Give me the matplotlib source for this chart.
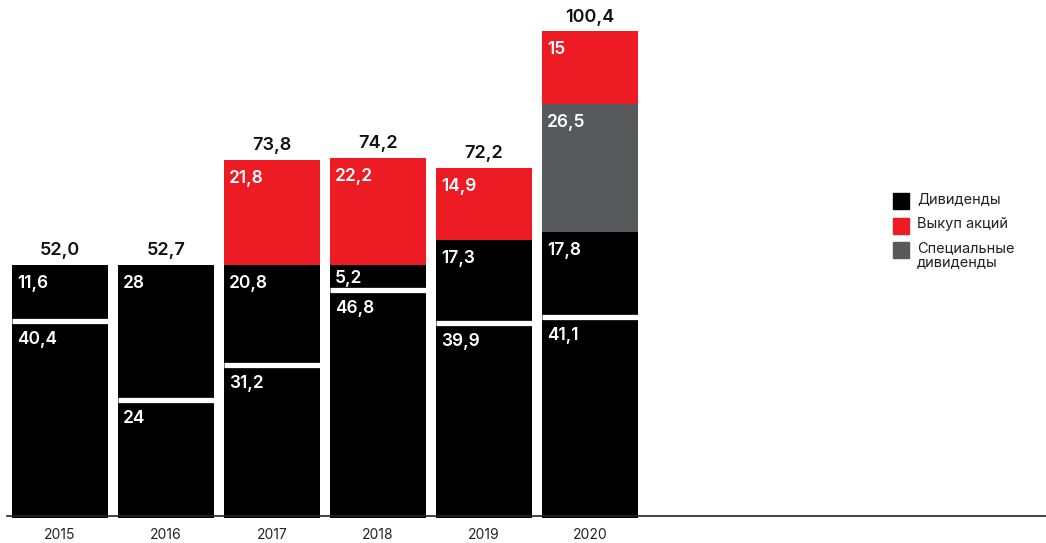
import matplotlib.pyplot as plt

plt.rcParams['font.family'] = ['Inter', 'DejaVu Sans']

# data
years = ['2015', '2016', '2017', '2018', '2019', '2020']
div_base = [40.4, 24, 31.2, 46.8, 39.9, 41.1]
div_extra = [11.6, 28, 20.8, 5.2, 17.3, 17.8]
special = [0, 0, 0, 0, 0, 26.5]
buyback = [0, 0, 21.8, 22.2, 14.9, 15]
totals = ['52,0', '52,7', '73,8', '74,2', '72,2', '100,4']
base_lbl = ['40,4', '24', '31,2', '46,8', '39,9', '41,1']
extra_lbl = ['11,6', '28', '20,8', '5,2', '17,3', '17,8']
special_lbl = ['', '', '', '', '', '26,5']
buyback_lbl = ['', '', '21,8', '22,2', '14,9', '15']

BLACK = '#000000'
RED = '#ED1C24'
GRAY = '#58595B'
PX = 4.83  # pixels per unit

fig = plt.figure(figsize=(10.46, 5.43), dpi=100)
ax = fig.add_axes([0, 27 / 543, 1, 516 / 543])
x = list(range(len(years)))
w = 0.906

bottom = [-0.5] * len(x)
segments = [(div_base, BLACK, base_lbl), (div_extra, BLACK, extra_lbl),
            (special, GRAY, special_lbl), (buyback, RED, buyback_lbl)]
first = True
for vals, col, lbls in segments:
    h = [v + 0.5 for v in vals] if first else vals
    ax.bar(x, h, w, bottom=bottom, color=col, align='center', linewidth=0,
           clip_on=False)
    for i, v in enumerate(vals):
        if v > 0 and lbls[i]:
            off_px = min(10, (v * PX - 14) / 2)
            ax.annotate(lbls[i], (x[i] - w / 2, bottom[i] + h[i]),
                        xytext=(3.5, -off_px * 0.72), textcoords='offset points',
                        ha='left', va='top', color='white',
                        fontsize=12.5, fontweight='semibold')
    bottom = [b + v for b, v in zip(bottom, h)]
    first = False

# white gap between the two dividend parts
for i in x:
    ax.plot([x[i] - w / 2, x[i] + w / 2], [div_base[i], div_base[i]],
            color='white', lw=3.8, solid_capstyle='butt')

for i in x:
    ax.annotate(totals[i], (x[i], bottom[i]), xytext=(0, 4),
                textcoords='offset points', ha='center', va='bottom',
                fontsize=13, fontweight='semibold', color='#111111')
    ax.text(x[i], -3.9, years[i], ha='center', va='center', fontsize=10,
            color='#222222')

ax.set_xlim(-60 / 106, (1046 - 60) / 106)
ax.set_ylim(0, 516 / PX)
ax.plot([-0.5, 10], [0, 0], color='#222222', lw=1.2, clip_on=False)

# legend
leg = [(BLACK, 'Дивиденды', 201), (RED, 'Выкуп акций', 226),
       (GRAY, 'Специальные\nдивиденды', 250)]
for col, txt, py in leg:
    fig.patches.append(plt.Rectangle((893 / 1046, 1 - (py + 8) / 543),
                                     16 / 1046, 16 / 543, color=col,
                                     transform=fig.transFigure))
    fig.text(917 / 1046, 1 - (py - 9) / 543, txt, ha='left', va='top',
             fontsize=10.5, color='#222222', linespacing=1.0)

ax.axis('off')
fig.savefig('out.png', dpi=100)
